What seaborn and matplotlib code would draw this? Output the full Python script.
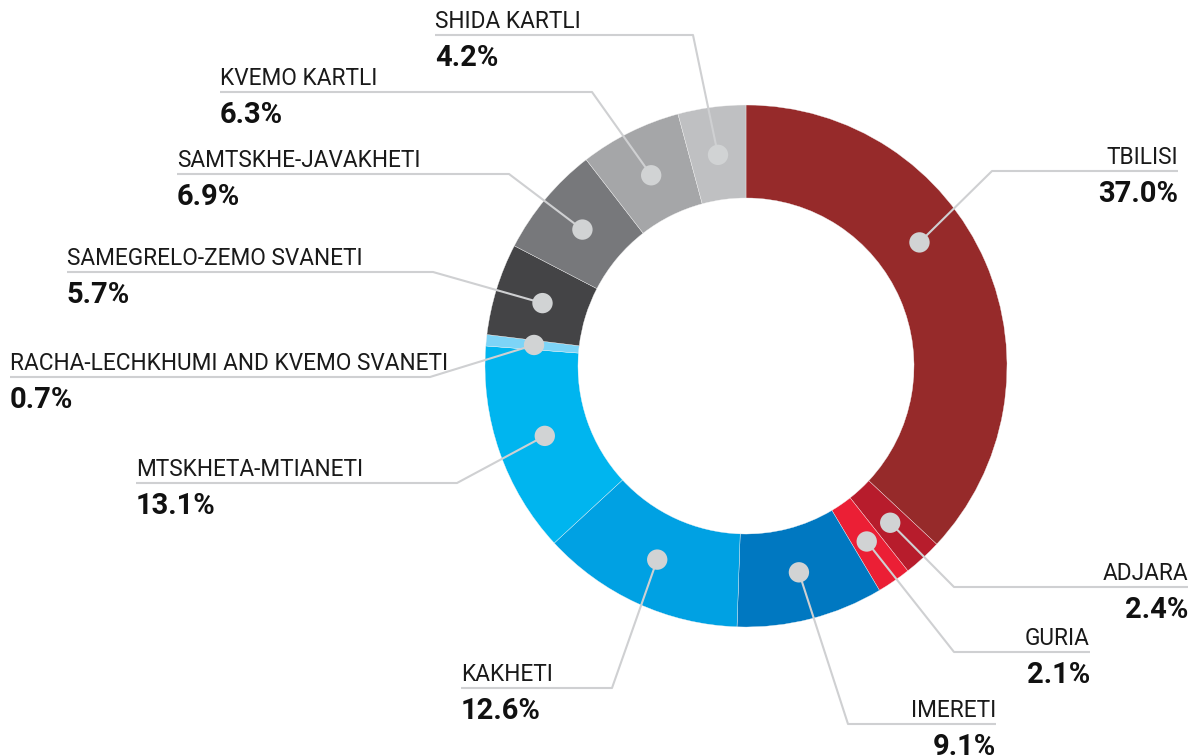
import numpy as np
import pandas as pd
import matplotlib
matplotlib.use("Agg")
import matplotlib.pyplot as plt
import seaborn as sns

# ---- data ----
regions = ["TBILISI", "ADJARA", "GURIA", "IMERETI", "KAKHETI", "MTSKHETA-MTIANETI",
           "RACHA-LECHKHUMI AND KVEMO SVANETI", "SAMEGRELO-ZEMO SVANETI",
           "SAMTSKHE-JAVAKHETI", "KVEMO KARTLI", "SHIDA KARTLI"]
shares = [37.0, 2.4, 2.1, 9.1, 12.6, 13.1, 0.7, 5.7, 6.9, 6.3, 4.2]
colors = ["#962a2a", "#b71c2c", "#eb1f35", "#0078c1", "#00a1e3", "#00b5ef",
          "#7dd4f7", "#444446", "#77787b", "#a5a6a8", "#bfc0c2"]

# ---- layout (pixel coords, y down) ----
W, H = 1195, 756
CX, CY = 746, 366
R_OUT, RING = 261, 93
R_DOT = 213
dot_angle_offset = {"TBILISI": 12.0}
# side, text x, elbow x, underline y
label_layout = {
    "TBILISI": ("right", 1178, 992, 171),
    "ADJARA": ("right", 1188, 954, 587),
    "GURIA": ("right", 1090, 954, 652),
    "IMERETI": ("right", 996, 848, 724),
    "KAKHETI": ("left", 461, 612, 688),
    "MTSKHETA-MTIANETI": ("left", 136, 457, 483),
    "RACHA-LECHKHUMI AND KVEMO SVANETI": ("left", 10, 430, 377),
    "SAMEGRELO-ZEMO SVANETI": ("left", 67, 433, 272),
    "SAMTSKHE-JAVAKHETI": ("left", 177, 509, 174),
    "KVEMO KARTLI": ("left", 220, 592, 92),
    "SHIDA KARTLI": ("left", 435, 693, 35),
}

sns.set_theme(style="white")
plt.rcParams["font.family"] = ["Roboto", "DejaVu Sans"]

fig = plt.figure(figsize=(W / 100, H / 100), dpi=100)
ax = fig.add_axes([0, 0, 1, 1])

def Y(y):
    return H - y

ax.pie(shares, colors=colors, startangle=90, counterclock=False,
       radius=R_OUT, center=(CX, Y(CY)),
       wedgeprops=dict(width=RING, linewidth=0.25, edgecolor="#f4f4f4"))

# dot positions from wedge mid-angles
total = sum(shares)
cum = np.cumsum([0] + shares[:-1])
rows = []
for name, v, c0 in zip(regions, shares, cum):
    mid = 90 - (c0 + v / 2) / total * 360 + dot_angle_offset.get(name, 0.0)
    a = np.deg2rad(mid)
    rows.append(dict(region=name, x=CX + R_DOT * np.cos(a), y=Y(CY) + R_DOT * np.sin(a)))
dots = pd.DataFrame(rows)

line_color = "#cfd0d2"
for _, r in dots.iterrows():
    side, tx, ex, uy = label_layout[r.region]
    ax.plot([r.x, ex, tx], [r.y, Y(uy), Y(uy)], color=line_color, lw=1.5,
            solid_capstyle="butt", zorder=3)
    ha = "left" if side == "left" else "right"
    ax.text(tx, Y(uy - 7), r.region, ha=ha, va="baseline", fontsize=16.3,
            color="#1a1a1a", zorder=5)
    val = shares[regions.index(r.region)]
    ax.text(tx, Y(uy + 31), f"{val:.1f}%", ha=ha, va="baseline", fontsize=21,
            fontweight="bold", color="#111111", zorder=5)

sns.scatterplot(data=dots, x="x", y="y", ax=ax, s=215, color="#d1d3d4",
                edgecolor="none", linewidth=0, zorder=4, legend=False)

ax.set_xlim(0, W)
ax.set_ylim(0, H)
ax.set_aspect("equal")
ax.axis("off")
fig.savefig("out.png", dpi=100, facecolor="white")
